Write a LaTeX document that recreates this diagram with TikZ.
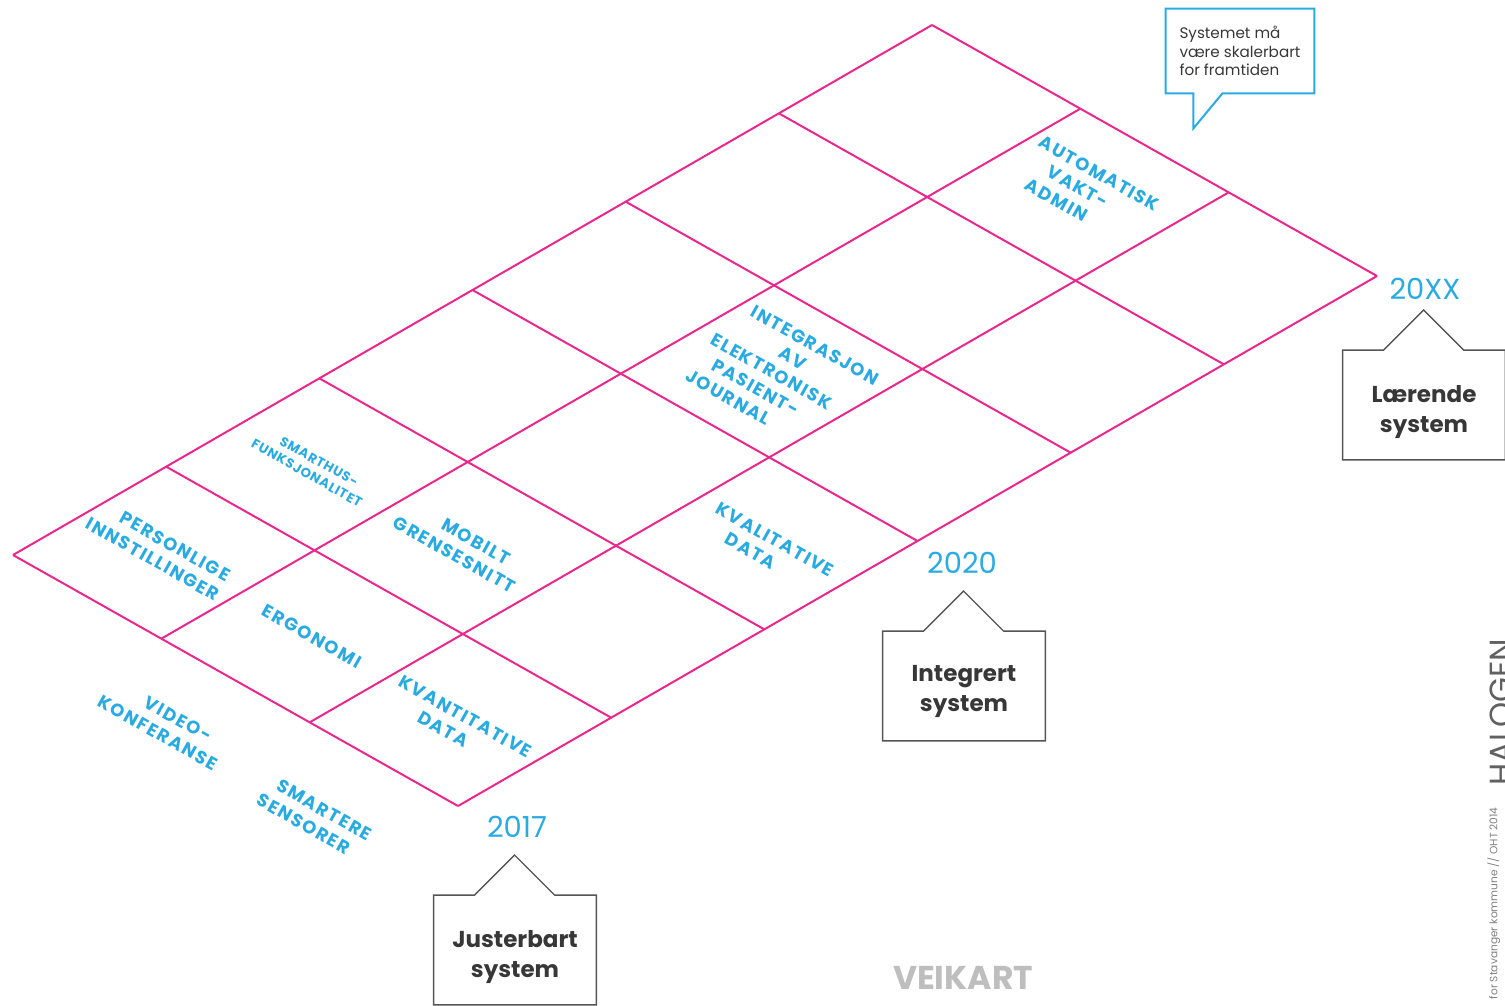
\documentclass[tikz,border=0pt]{standalone}
\usepackage{fontspec}
\setmainfont{Poppins}
\usepackage{tikz}
\usetikzlibrary{calc}

\definecolor{roadpink}{RGB}{232,40,140}
\definecolor{roadblue}{RGB}{41,171,226}
\definecolor{phasegray}{RGB}{55,55,55}
\definecolor{markgray}{RGB}{190,190,190}

% one line of a tilted label, slid along its own direction
\newcommand{\isoline}[2]{\ifdim#1>0pt\hspace*{#1}\hspace*{#1}#2\else#2\hspace*{-#1}\hspace*{-#1}\fi}

\tikzset{
  gridline/.style={draw=roadpink, line width=1pt},
  tag/.style={text=roadblue, font=\bfseries\fontsize{9}{11}\selectfont\addfontfeatures{LetterSpace=9},
    align=center, inner sep=0pt, rotate=-29.4},
  smalltag/.style={tag, font=\bfseries\fontsize{6.6}{8}\selectfont\addfontfeatures{LetterSpace=6}},
  year/.style={text=roadblue, font=\fontsize{14.5}{16}\selectfont, inner sep=0pt},
  phase/.style={minimum width=81pt, minimum height=54.5pt, inner sep=0pt},
  phasetext/.style={align=center, inner sep=0pt, text=phasegray, font=\bfseries\fontsize{11.5}{15}\selectfont},
  phaseline/.style={draw=phasegray!85, line width=0.7pt},
  note/.style={minimum width=74pt, minimum height=42pt, inner sep=0pt, align=left,
    text=phasegray, font=\fontsize{7.6}{9.2}\selectfont},
  noteline/.style={draw=roadblue, line width=1pt}
}

\begin{document}
\begin{tikzpicture}[x=0.5pt, y=-0.5pt]
  \useasboundingbox (0,0) rectangle (1505,1006);

  % grid corners and cell centres
  \foreach \i in {0,...,6}
    \foreach \j in {0,...,3}
      \coordinate (g-\i-\j) at ({13+153.17*\i+148.33*\j},{555-88.33*\i+83.67*\j});
  \foreach \i in {0,...,5}
    \foreach \j in {0,1,2}
      \coordinate (cell-\i-\j) at ({13+153.17*(\i+0.5)+148.33*(\j+0.5)},{555-88.33*(\i+0.5)+83.67*(\j+0.5)});

  % the road
  \foreach \i in {0,...,6}
    \draw[gridline] (g-\i-0) -- (g-\i-3);
  \foreach \j in {0,...,3}
    \draw[gridline] (g-0-\j) -- (g-6-\j);

  % labels in the cells
  \node[tag] (pers) at (cell-0-0) {\isoline{3.3pt}{PERSONLIGE}\\\isoline{-3.3pt}{INNSTILLINGER}};
  \node[tag] (ergo) at (cell-0-1) {ERGONOMI};
  \node[tag] (kvant) at ($(cell-0-2)+(-6,3)$) {\isoline{3.3pt}{KVANTITATIVE}\\\isoline{-3.3pt}{DATA}};
  \node[smalltag] (smart) at ($(cell-1-0)+(-4,3)$) {\isoline{1.2pt}{SMARTHUS-}\\\isoline{-1.2pt}{FUNKSJONALITET}};
  \node[tag] (mobil) at (cell-1-1) {\isoline{3.1pt}{MOBILT}\\\isoline{-3.1pt}{GRENSESNITT}};
  \node[tag] (kval) at ($(cell-2-2)+(-4,2)$) {\isoline{4pt}{KVALITATIVE}\\\isoline{-4pt}{DATA}};
  \node[tag] (integ) at (cell-3-1) {\isoline{12.5pt}{INTEGRASJON}\\\isoline{6.25pt}{AV}\\ELEKTRONISK\\
    \isoline{-6.25pt}{PASIENT-}\\\isoline{-12.5pt}{JOURNAL}};
  \node[tag] (vakt) at ($(cell-5-1)+(0,-8)$) {\isoline{6pt}{AUTOMATISK}\\VAKT-\\\isoline{-6pt}{ADMIN}};
  \node[tag] (video) at (168,726) {\isoline{2.8pt}{VIDEO-}\\\isoline{-2.8pt}{KONFERANSE}};
  \node[tag] (sensor) at (314,817) {\isoline{2.8pt}{SMARTERE}\\\isoline{-2.8pt}{SENSORER}};

  % years
  \node[year] (y17) at (517,827) {2017};
  \node[year] (y20) at (962,563) {2020};
  \node[year] (yxx) at (1425,289) {20XX};

  % phase boxes
  \node[phase] (just) at (515,950) {};
  \node[phasetext] (just-t) at (515,957) {Justerbart\\system};
  \draw[phaseline] (just.north west) -- ++(41,0) -- ++(40,-40) -- ++(40,40) -- (just.north east)
    -- (just.south east) -- (just.south west) -- cycle;
  \node[phase] (integr) at (964,686) {};
  \node[phasetext] (integr-t) at (964,691) {Integrert\\system};
  \draw[phaseline] (integr.north west) -- ++(41,0) -- ++(40,-40) -- ++(40,40) -- (integr.north east)
    -- (integr.south east) -- (integr.south west) -- cycle;
  \node[phase] (laer) at (1424,405) {};
  \node[phasetext] (laer-t) at (1424,412) {Lærende\\system};
  \draw[phaseline] (laer.north west) -- ++(41,0) -- ++(40,-40) -- ++(40,40) -- (laer.north east)
    -- (laer.south east) -- (laer.south west) -- cycle;

  % speech bubble
  \node[note] (skal) at (1240,51) {Systemet må\\være skalerbart\\for framtiden};
  \draw[noteline] (skal.south west) -- (skal.north west) -- (skal.north east) -- (skal.south east)
    -- ++(-92,0) -- ++(-29,35) -- ++(0,-35) -- cycle;

  % footer
  \node[text=markgray, font=\bfseries\fontsize{16.5}{18}\selectfont] (veikart) at (963,978) {VEIKART};
  \node[rotate=90, anchor=north, inner sep=0pt, text=black!62, font=\fontsize{16}{18}\selectfont] (halogen) at (1490,712) {HALOGEN};
  \node[rotate=90, anchor=north east, inner sep=0pt, text=gray, font=\fontsize{5.3}{6}\selectfont] (credit) at (1487,807) {for Stavanger kommune // OHT 2014};
\end{tikzpicture}
\end{document}
